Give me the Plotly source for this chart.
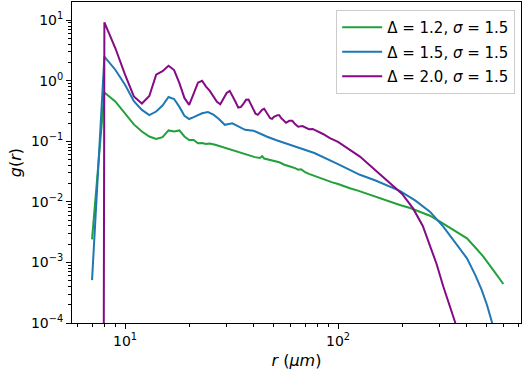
import plotly.graph_objects as go

# ---- data ----
r_green = [7, 8, 9, 10, 11, 12, 13, 14, 15, 16, 17, 18, 19, 20, 21, 22, 23, 24, 25,
           26.5, 27.5, 29, 30, 31, 32.8, 34, 36, 38, 40.7, 43, 44, 45, 47, 50.6, 53, 56, 58, 60,
           62.8, 65, 67, 70, 73, 77.4,
           82, 88, 94, 100, 107, 113.7, 125, 140, 155, 175, 195, 218, 245, 270, 301, 350, 403,
           440, 481, 540, 597]
g_green = [2.4e-3, 0.64, 0.455, 0.29, 0.19, 0.145, 0.12, 0.109, 0.117, 0.151, 0.145, 0.151,
           0.12, 0.105, 0.105, 0.093, 0.094, 0.09, 0.092,
           0.0875, 0.084, 0.078, 0.077, 0.073, 0.068, 0.066, 0.062, 0.058, 0.0548, 0.053, 0.057,
           0.052, 0.05, 0.048, 0.045, 0.041, 0.040, 0.038, 0.036, 0.034, 0.0345, 0.031, 0.029, 0.0269,
           0.025, 0.0225, 0.021, 0.0197, 0.018, 0.0168, 0.0152, 0.0132, 0.0117, 0.0101, 0.0089,
           0.0079, 0.0068, 0.0059, 0.0047, 0.0034, 0.0025, 0.00178, 0.00125, 7.2e-4, 4.4e-4]

r_blue = [7, 8, 9, 10, 11, 12, 13, 14, 15, 16, 17, 18, 19, 20, 21, 22, 23,
          24.5, 26, 27.5, 29.4, 31.9, 34, 36.6, 40, 43, 46.2, 51, 56.3, 66, 77.4, 100, 126.7,
          150, 195, 230, 270, 312, 350, 403, 440, 473, 500, 527, 545]
g_blue = [5.1e-4, 2.5, 1.52, 0.86, 0.46, 0.33, 0.27, 0.31, 0.39, 0.54, 0.50, 0.37, 0.264,
          0.233, 0.25, 0.27, 0.29,
          0.304, 0.275, 0.235, 0.187, 0.198, 0.175, 0.155, 0.15, 0.133, 0.12, 0.105, 0.093,
          0.077, 0.064, 0.042, 0.028, 0.0225, 0.0152, 0.0106, 0.0069, 0.0039, 0.0023, 0.00117,
          6.3e-4, 3.5e-4, 2.0e-4, 1.05e-4, 7e-5]

r_purple = [7, 8, 9, 10, 11, 12, 13, 14, 15, 16, 17, 18, 19, 20, 21, 22, 23, 24, 25, 26, 27,
            28, 29, 30, 31, 32, 33, 34, 35, 36, 37, 38, 39, 40, 41, 42, 43, 44, 45, 46, 47, 48,
            49, 50, 52, 53, 54, 56, 57, 59, 61, 63, 65, 68, 71, 73, 76, 80, 85, 91.6, 100,
            126.7, 150, 175, 200, 225, 250, 270, 290, 312, 335, 354, 370]
g_purple = [1e-100, 9.2, 3.47, 1.26, 0.55, 0.42, 0.56, 1.26, 1.44, 1.77, 1.5, 0.91, 0.52, 0.40,
            0.61, 0.93, 1.0, 0.80, 0.68, 0.54, 0.45, 0.41, 0.52, 0.63, 0.68, 0.565, 0.45, 0.36,
            0.37, 0.42, 0.485, 0.49, 0.40, 0.33, 0.285, 0.274, 0.308, 0.33, 0.344, 0.308, 0.264,
            0.24, 0.235, 0.254, 0.27, 0.27, 0.243, 0.21, 0.202, 0.218, 0.218, 0.191, 0.174,
            0.178, 0.165, 0.158, 0.16, 0.148, 0.132, 0.113, 0.098,
            0.056, 0.033, 0.021, 0.0135, 0.0078, 0.004, 0.0019, 0.00095, 0.0004, 0.00019,
            0.000105, 5.5e-5]

series = [
    ("Δ = 1.2, <i>σ</i> = 1.5", r_green, g_green, "#22a03a"),
    ("Δ = 1.5, <i>σ</i> = 1.5", r_blue, g_blue, "#1f78b4"),
    ("Δ = 2.0, <i>σ</i> = 1.5", r_purple, g_purple, "#850a85"),
]

x_tickvals = [10, 100]
x_ticktext = ["10<sup>1</sup>", "10<sup>2</sup>"]
y_tickvals = [1e-4, 1e-3, 1e-2, 1e-1, 1, 10]
y_ticktext = ["10<sup>−4</sup>", "10<sup>−3</sup>", "10<sup>−2</sup>",
              "10<sup>−1</sup>", "10<sup>0</sup>", "10<sup>1</sup>"]

x_minor = [m * 10 ** e for e in (0, 1, 2) for m in range(2, 10)
           if 5.6 < m * 10 ** e < 720]
y_minor = [m * 10 ** e for e in (-4, -3, -2, -1, 0, 1) for m in range(2, 10)
           if m * 10 ** e < 20]

fig = go.Figure()
for i, (name, xs, ys, col) in enumerate(series):
    fig.add_trace(go.Scatter(x=xs, y=ys, mode="lines", name=name, legendgroup=f"g{i}",
                             line=dict(color=col, width=2), cliponaxis=True))

font = "DejaVu Sans, Arial, sans-serif"
axis_common = dict(type="log", showgrid=False, zeroline=False, showline=True,
                   linecolor="black", linewidth=1, mirror=True, ticks="outside",
                   ticklen=5, tickwidth=1, tickcolor="black",
                   tickfont=dict(family=font, size=14, color="black"))

fig.update_xaxes(range=[0.751, 2.859], tickmode="array", tickvals=x_tickvals,
                 ticktext=x_ticktext,
                 minor=dict(tickmode="array", tickvals=x_minor, ticks="outside",
                            ticklen=3, tickwidth=1, tickcolor="black"),
                 title=dict(text="<i>r</i> (<i>μm</i>)", font=dict(family=font, size=16,
                                                                  color="black"), standoff=7),
                 **axis_common)
fig.update_yaxes(range=[-4, 1.30], tickmode="array", tickvals=y_tickvals,
                 ticktext=y_ticktext,
                 minor=dict(tickmode="array", tickvals=y_minor, ticks="outside",
                            ticklen=3, tickwidth=1, tickcolor="black"),
                 title=dict(text="<i>g</i>(<i>r</i>)", font=dict(family=font, size=16,
                                                                color="black"), standoff=5),
                 **axis_common)

fig.update_layout(
    width=526, height=373,
    margin=dict(l=72, r=5, t=2, b=50),
    plot_bgcolor="white", paper_bgcolor="white",
    showlegend=True,
    legend=dict(x=0.987, y=0.975, xanchor="right", yanchor="top",
                bgcolor="rgba(255,255,255,0.8)", bordercolor="#cccccc", borderwidth=1,
                font=dict(family=font, size=15, color="black"),
                itemwidth=40, tracegroupgap=2),
)

fig.write_html("out.html", config={"displayModeBar": False},
               post_script="document.body.style.margin='0';document.body.style.overflow='hidden';")
